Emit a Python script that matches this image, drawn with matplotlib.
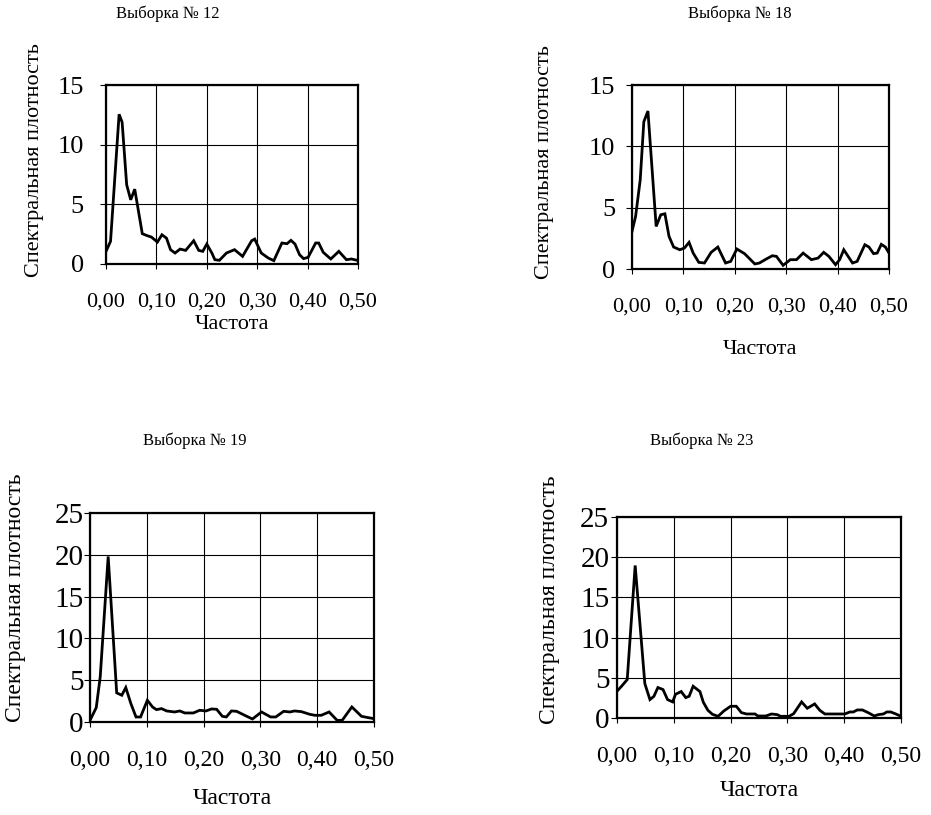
import matplotlib
matplotlib.use("Agg")
import matplotlib.pyplot as plt
from matplotlib.ticker import FuncFormatter, MultipleLocator

plt.rcParams["font.family"] = ["Liberation Serif", "DejaVu Serif"]

# Выборка № 12
freq_12 = [0.000, 0.009, 0.026, 0.032, 0.041, 0.049, 0.057, 0.072, 0.082, 0.090,
           0.102, 0.111, 0.120, 0.128, 0.137, 0.147, 0.158, 0.174, 0.184, 0.192,
           0.200, 0.210, 0.216, 0.225, 0.239, 0.255, 0.271, 0.289, 0.295, 0.308,
           0.322, 0.333, 0.349, 0.359, 0.367, 0.375, 0.384, 0.392, 0.401, 0.416,
           0.422, 0.431, 0.446, 0.462, 0.477, 0.487, 0.498]
dens_12 = [1.06, 1.90, 12.55, 11.88, 6.64, 5.38, 6.27, 2.54, 2.37, 2.26,
           1.84, 2.45, 2.17, 1.20, 0.92, 1.25, 1.14, 1.95, 1.14, 1.06,
           1.67, 0.92, 0.36, 0.31, 0.92, 1.20, 0.64, 1.95, 2.09, 0.92,
           0.50, 0.28, 1.76, 1.70, 1.98, 1.67, 0.78, 0.45, 0.56, 1.76,
           1.76, 0.98, 0.42, 1.06, 0.36, 0.42, 0.31]

# Выборка № 18
freq_18 = [0.000, 0.007, 0.016, 0.023, 0.031, 0.047, 0.056, 0.064, 0.072, 0.081,
           0.093, 0.102, 0.111, 0.119, 0.130, 0.141, 0.154, 0.167, 0.182, 0.192,
           0.204, 0.219, 0.239, 0.248, 0.261, 0.273, 0.281, 0.294, 0.308, 0.320,
           0.333, 0.349, 0.362, 0.373, 0.383, 0.396, 0.404, 0.412, 0.429, 0.438,
           0.453, 0.461, 0.470, 0.477, 0.485, 0.493, 0.500]
dens_18 = [3.06, 4.29, 7.27, 12.0, 12.88, 3.47, 4.42, 4.50, 2.66, 1.79,
           1.57, 1.71, 2.17, 1.30, 0.54, 0.49, 1.36, 1.79, 0.49, 0.62,
           1.63, 1.25, 0.41, 0.49, 0.81, 1.08, 1.03, 0.30, 0.76, 0.76,
           1.30, 0.76, 0.89, 1.36, 1.03, 0.35, 0.76, 1.57, 0.49, 0.62,
           1.98, 1.79, 1.25, 1.30, 2.01, 1.79, 1.30]

# Выборка № 19
freq_19 = [0.000, 0.011, 0.018, 0.032, 0.047, 0.056, 0.063, 0.072, 0.081, 0.089,
           0.101, 0.110, 0.117, 0.126, 0.135, 0.149, 0.158, 0.167, 0.182, 0.193,
           0.204, 0.214, 0.223, 0.233, 0.240, 0.249, 0.258, 0.276, 0.286, 0.302,
           0.318, 0.327, 0.341, 0.352, 0.360, 0.372, 0.387, 0.396, 0.407, 0.421,
           0.435, 0.444, 0.461, 0.478, 0.490, 0.500]
dens_19 = [0.2, 1.72, 5.4, 19.8, 3.48, 3.2, 4.12, 2.2, 0.6, 0.6,
           2.6, 1.8, 1.48, 1.6, 1.32, 1.2, 1.32, 1.08, 1.08, 1.4,
           1.32, 1.56, 1.52, 0.68, 0.6, 1.32, 1.28, 0.68, 0.36, 1.2,
           0.6, 0.6, 1.28, 1.2, 1.32, 1.24, 0.92, 0.8, 0.8, 1.2,
           0.2, 0.2, 1.8, 0.68, 0.52, 0.4]

# Выборка № 23
freq_23 = [0.000, 0.008, 0.018, 0.032, 0.049, 0.058, 0.065, 0.072, 0.081, 0.089,
           0.098, 0.103, 0.113, 0.121, 0.127, 0.134, 0.146, 0.152, 0.160, 0.168,
           0.178, 0.188, 0.200, 0.210, 0.219, 0.228, 0.243, 0.248, 0.262, 0.272,
           0.282, 0.288, 0.303, 0.311, 0.325, 0.335, 0.348, 0.357, 0.366, 0.378,
           0.401, 0.410, 0.416, 0.423, 0.432, 0.442, 0.453, 0.460, 0.469, 0.475,
           0.482, 0.491, 0.500]
dens_23 = [3.33, 3.95, 4.78, 18.97, 4.28, 2.29, 2.70, 3.79, 3.54, 2.29,
           2.00, 2.95, 3.29, 2.54, 2.70, 3.95, 3.29, 1.96, 0.96, 0.46,
           0.21, 0.87, 1.46, 1.46, 0.67, 0.50, 0.50, 0.25, 0.25, 0.50,
           0.42, 0.21, 0.21, 0.54, 2.00, 1.21, 1.75, 0.96, 0.50, 0.50,
           0.50, 0.75, 0.75, 1.00, 1.00, 0.67, 0.25, 0.42, 0.50, 0.75,
           0.75, 0.50, 0.21]

titles = ["Выборка № 12", "Выборка № 18", "Выборка № 19", "Выборка № 23"]
y_max = [15, 15, 25, 25]
x_ticks = [0.0, 0.1, 0.2, 0.3, 0.4, 0.5]

# layout in pixels of a 931x815 canvas: axes box, title centre, label spots, font sizes
W, H = 931, 815
panels = [
    dict(box=(106, 85, 358, 264), title=(168, 14), ypad=12, xlab_y=325, ylab=(35, 160),
         fs_yt=19, fs_xt=16, fs_lab=16, fs_ylab=16),
    dict(box=(632, 85, 889, 269), title=(740, 14), ypad=8, xlab_y=350, ylab=(545, 162),
         fs_yt=19, fs_xt=16, fs_lab=16, fs_ylab=16),
    dict(box=(90, 513, 374, 722), title=(195, 441), ypad=0.5, xlab_y=798, ylab=(16, 598),
         fs_yt=21, fs_xt=17, fs_lab=17, fs_ylab=17),
    dict(box=(617, 517, 901, 718), title=(702, 441), ypad=1.5, xlab_y=791, ylab=(550, 600),
         fs_yt=21, fs_xt=17, fs_lab=17, fs_ylab=17),
]
series = [(freq_12, dens_12), (freq_18, dens_18), (freq_19, dens_19), (freq_23, dens_23)]

fig = plt.figure(figsize=(W / 100, H / 100), dpi=100)
comma = FuncFormatter(lambda v, _: f"{v:.2f}".replace(".", ","))

for i, p in enumerate(panels):
    x0, y0, x1, y1 = p["box"]
    ax = fig.add_axes([x0 / W, 1 - y1 / H, (x1 - x0) / W, (y1 - y0) / H])
    f, d = series[i]
    ax.plot(f, d, color="black", lw=2.0, solid_joinstyle="miter")
    ax.set_xlim(0, 0.5)
    ax.set_ylim(0, y_max[i])
    ax.set_xticks(x_ticks)
    ax.xaxis.set_major_formatter(comma)
    ax.yaxis.set_major_locator(MultipleLocator(5))
    ax.grid(True, color="black", lw=0.8)
    ax.set_axisbelow(True)
    for s in ax.spines.values():
        s.set_linewidth(1.6)
    ax.tick_params(axis="x", direction="out", length=3.5, width=0.8, pad=17,
                   labelsize=p["fs_xt"])
    ax.tick_params(axis="y", direction="out", length=4, width=0.8, pad=p["ypad"],
                   labelsize=p["fs_yt"])

    lx, ly = p["ylab"]
    fig.text(lx / W, 1 - ly / H, "Спектральная плотность", rotation=90,
             ha="center", va="center", fontsize=p["fs_ylab"])
    fig.text(((x0 + x1) / 2) / W, 1 - p["xlab_y"] / H, "Частота",
             ha="center", va="center", fontsize=p["fs_lab"])
    tx, ty = p["title"]
    fig.text(tx / W, 1 - ty / H, titles[i], ha="center", va="center", fontsize=12)

fig.savefig("out.png", dpi=100)
